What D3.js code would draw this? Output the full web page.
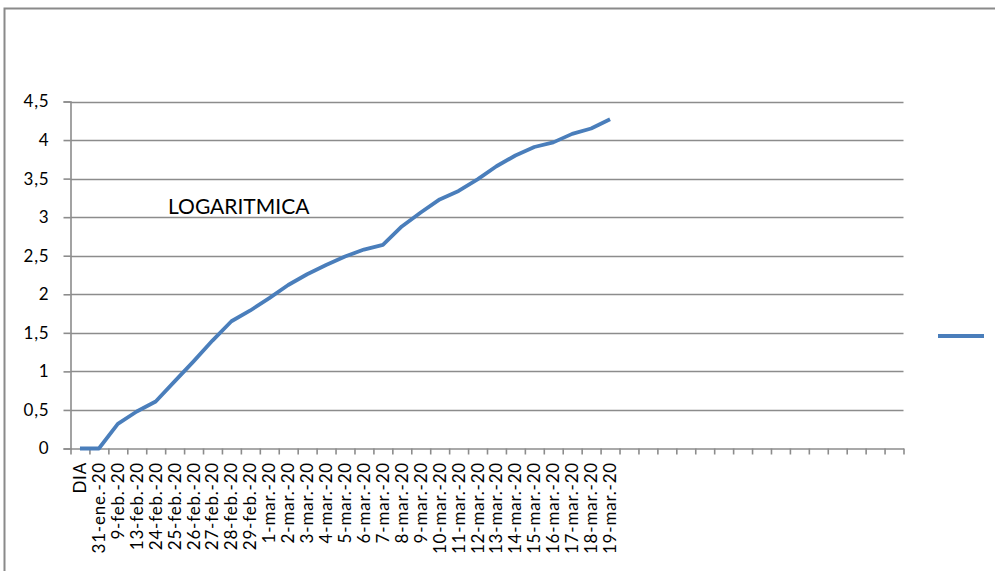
<!DOCTYPE html>
<html>
<head>
<meta charset="utf-8">
<script src="https://cdn.jsdelivr.net/npm/d3@7/dist/d3.min.js"></script>
<style>
  html, body { margin: 0; padding: 0; background: #ffffff; }
  svg { display: block; }
  text { font-family: Lato, "Open Sans", sans-serif; fill: #000; }
</style>
</head>
<body>
<svg id="chart" width="995" height="571"></svg>
<script>
// Categories on the x axis (the remaining slots of the axis stay empty)
const categories = [
  "DIA", "31-ene.-20", "9-feb.-20", "13-feb.-20", "24-feb.-20", "25-feb.-20",
  "26-feb.-20", "27-feb.-20", "28-feb.-20", "29-feb.-20", "1-mar.-20",
  "2-mar.-20", "3-mar.-20", "4-mar.-20", "5-mar.-20", "6-mar.-20",
  "7-mar.-20", "8-mar.-20", "9-mar.-20", "10-mar.-20", "11-mar.-20",
  "12-mar.-20", "13-mar.-20", "14-mar.-20", "15-mar.-20", "16-mar.-20",
  "17-mar.-20", "18-mar.-20", "19-mar.-20"
];
const slotCount = 44;

// Logarithmic series (log10 of cumulative count)
const values = [
  0, 0, 0.32, 0.48, 0.61, 0.87,
  1.13, 1.40, 1.65, 1.79, 1.95,
  2.12, 2.26, 2.38, 2.49, 2.58,
  2.64, 2.88, 3.06, 3.23, 3.34,
  3.49, 3.66, 3.80, 3.91, 3.97,
  4.08, 4.15, 4.27
];

const yTicks = [0, 0.5, 1, 1.5, 2, 2.5, 3, 3.5, 4, 4.5];
const chartTitle = "LOGARITMICA";

const svg = d3.select("#chart");
const gridColor = "#8c8c8c";
const lineColor = "#4a7ebb";

const plotLeft = 70.5, plotRight = 903.5, plotTop = 101.5, plotBottom = 448.5;

// outer frame
svg.append("path")
  .attr("d", `M4.5,571 V8.5 H995`)
  .attr("fill", "none")
  .attr("stroke", "#8a8a8a")
  .attr("stroke-width", 2);

const x = d3.scaleBand().domain(d3.range(slotCount)).range([plotLeft, plotRight]).padding(0);
const xEdge = d3.scaleLinear().domain([0, slotCount]).range([plotLeft, plotRight]);
const y = d3.scaleLinear().domain([0, 4.5]).range([plotBottom, plotTop]);

// horizontal gridlines
svg.append("g")
  .selectAll("line")
  .data(yTicks.filter(v => v > 0))
  .join("line")
  .attr("x1", plotLeft).attr("x2", plotRight)
  .attr("y1", d => Math.round(y(d)) + 0.5)
  .attr("y2", d => Math.round(y(d)) + 0.5)
  .attr("stroke", gridColor)
  .attr("stroke-width", 1.6);

// y axis
const yAxis = svg.append("g")
  .attr("transform", `translate(${plotLeft},0)`)
  .call(d3.axisLeft(y).tickValues(yTicks).tickSize(7).tickPadding(14)
    .tickFormat(d => String(d).replace(".", ",")));
yAxis.selectAll("path, line").attr("stroke", gridColor).attr("stroke-width", 1.6);
yAxis.selectAll("text")
  .style("font-size", "17px")
  .style("letter-spacing", "0.8px")
  .style("font-family", "Lato, 'Open Sans', sans-serif")
  .attr("fill", "#000");

// x axis: tick marks on category boundaries
const xAxis = svg.append("g")
  .attr("transform", `translate(0,${plotBottom})`)
  .call(d3.axisBottom(xEdge).tickValues(d3.range(slotCount + 1)).tickSize(6).tickSizeOuter(0).tickFormat(""));
xAxis.selectAll("path, line").attr("stroke", gridColor).attr("stroke-width", 1.6);

// rotated category labels
svg.append("g")
  .selectAll("text")
  .data(categories)
  .join("text")
  .attr("transform", (d, i) => `translate(${x(i) + x.bandwidth() / 2 + 6},462) rotate(-90)`)
  .attr("text-anchor", "end")
  .style("font-size", "17px")
  .style("letter-spacing", "0.8px")
  .text(d => d);

// series line
const line = d3.line()
  .x((d, i) => x(i) + x.bandwidth() / 2)
  .y(d => y(d));
svg.append("path")
  .datum(values)
  .attr("d", line)
  .attr("fill", "none")
  .attr("stroke", lineColor)
  .attr("stroke-width", 3.8)
  .attr("stroke-linejoin", "round")
  .attr("stroke-linecap", "butt");

// chart label
svg.append("text")
  .attr("x", 168)
  .attr("y", 214)
  .style("font-size", "21px")
  .text(chartTitle);

// legend key (line sample only)
svg.append("line")
  .attr("x1", 938).attr("x2", 984)
  .attr("y1", 336).attr("y2", 336)
  .attr("stroke", lineColor)
  .attr("stroke-width", 3.8);
</script>
</body>
</html>
